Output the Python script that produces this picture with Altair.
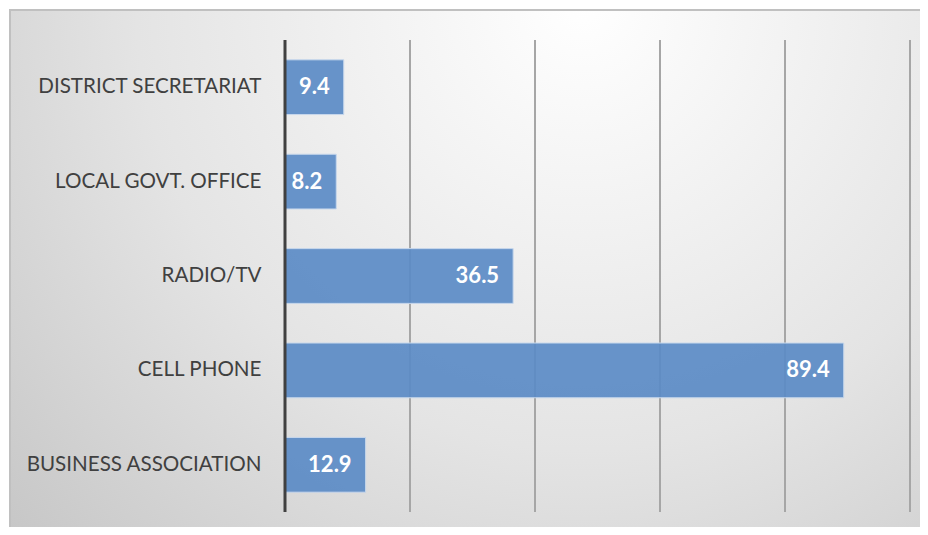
import altair as alt
import pandas as pd

categories = ["DISTRICT SECRETARIAT", "LOCAL GOVT. OFFICE", "RADIO/TV", "CELL PHONE", "BUSINESS ASSOCIATION"]
values = [9.4, 8.2, 36.5, 89.4, 12.9]
grid_ticks = [20, 40, 60, 80, 100]

df = pd.DataFrame({"category": categories, "value": values})
grid_df = pd.DataFrame({"tick": grid_ticks})
zero_df = pd.DataFrame({"tick": [0]})
bg_df = pd.DataFrame({"k": [0]})

xscale = alt.Scale(domain=[0, 100], nice=False, zero=True)
yscale = alt.Scale(domain=categories, paddingInner=0.42, paddingOuter=0.21)

bg = alt.Chart(bg_df).mark_rect(
    fill={
        "gradient": "radial",
        "x1": 0.6, "y1": 0.2, "r1": 0,
        "x2": 0.6, "y2": 0.2, "r2": 0.85,
        "stops": [
            {"offset": 0, "color": "#ffffff"},
            {"offset": 0.55, "color": "#e4e4e4"},
            {"offset": 1, "color": "#c4c4c4"},
        ],
    },
    stroke="#c0c0c0",
    strokeWidth=2,
    clip=False,
).encode(
    x=alt.value(-275), x2=alt.value(680),
    y=alt.value(-30), y2=alt.value(530),
)

grid = alt.Chart(grid_df).mark_rule(color="#a6a6a6", strokeWidth=2).encode(
    x=alt.X("tick:Q", scale=xscale, axis=None),
    y=alt.value(0), y2=alt.value(472),
)

bars = alt.Chart(df).mark_bar(
    fill="#5b8bc5", fillOpacity=0.92, stroke="#c8d8ec", strokeWidth=1
).encode(
    x=alt.X("value:Q", scale=xscale, axis=None),
    y=alt.Y("category:N", scale=yscale, sort=categories,
            axis=alt.Axis(title=None, domain=False, ticks=False, grid=False,
                          labelFont="Lato", labelFontSize=20.6, labelColor="#404040",
                          labelPadding=24, zindex=1, labelLimit=400)),
)

texts = alt.Chart(df).mark_text(
    align="right", baseline="middle", dx=-14, color="white",
    font="Lato", fontSize=22, fontWeight="bold"
).encode(
    x=alt.X("value:Q", scale=xscale),
    y=alt.Y("category:N", scale=yscale, sort=categories),
    text=alt.Text("value:Q", format=".1f"),
)

zero = alt.Chart(zero_df).mark_rule(color="#404040", strokeWidth=3).encode(
    x=alt.X("tick:Q", scale=xscale),
    y=alt.value(0), y2=alt.value(472),
)

chart = alt.layer(bg, grid, bars, texts, zero).properties(
    width=625, height=472,
    autosize="none",
    padding={"left": 277, "top": 32, "right": 10, "bottom": 15},
    background="white",
).configure_view(stroke=None)

chart.save("out.html", embed_options={"renderer": "svg", "actions": False})
